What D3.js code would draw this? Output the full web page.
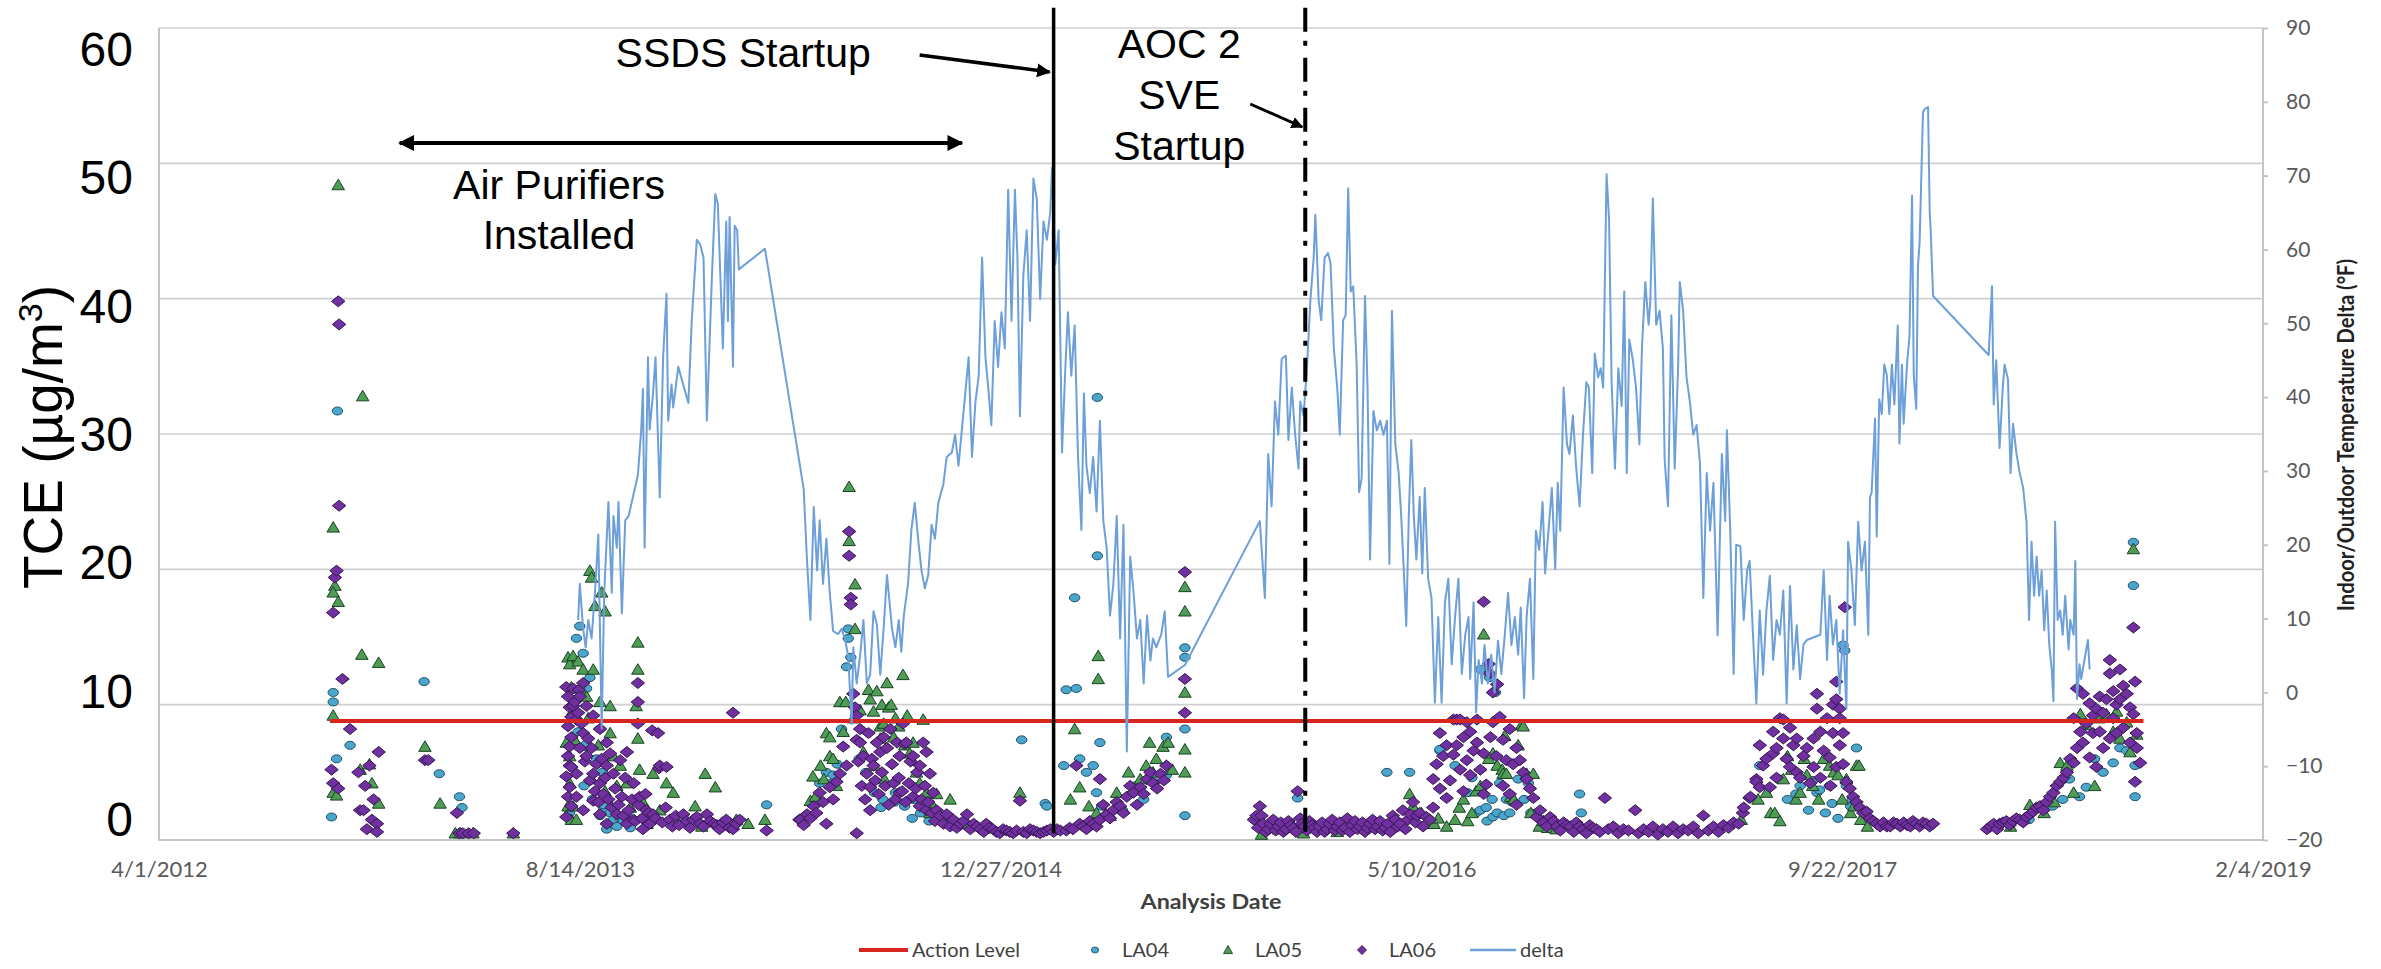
<!DOCTYPE html>
<html>
<head>
<meta charset="utf-8">
<script src="https://cdn.jsdelivr.net/npm/d3@7/dist/d3.min.js"></script>
<style>
  body { margin: 0; background: #fff; }
</style>
</head>
<body>
<script>
// sample dates are kept as day counts from 4/1/2012 (the first x tick)
const la04 = [
  [205,1.7],[207,10.2],[207,10.9],[211,6.0],[212,31.7],[227,7.0],[315,11.7],[333,4.9],[357,3.2],[360,2.4],
  [488,2.0],[496,14.9],[498,8.0],[500,15.8],[504,13.8],[505,4.0],[508,11.2],[508,6.9],[508,7.1],[512,12.0],[515,3.0],[520,6.0],[524,8.2],[524,1.8],[527,5.0],[528,2.2],[528,2.6],[532,0.8],[534,1.2],[536,2.0],[540,1.5],[544,1.0],[548,1.6],[552,1.4],[556,1.9],[560,0.9],[722,2.6],
  [785,4.2],[793,5.0],[799,4.2],[801,4.8],[806,5.6],[811,8.2],[817,12.8],[819,15.6],[819,14.9],[822,13.5],[832,6.0],[840,5.0],[850,3.5],[858,2.4],[860,3.0],[874,2.8],[875,3.5],[886,2.5],[895,1.6],[897,3.0],[905,2.0],[915,1.4],[930,1.5],
  [1025,7.4],[1053,2.7],[1055,2.5],[1075,5.5],[1078,11.1],[1088,17.9],[1090,11.2],[1094,6.0],[1102,5.0],[1110,5.5],[1114,3.5],[1115,32.7],[1115,21.0],[1118,7.2],[1120,2.5],[1130,2.0],[1145,2.2],[1160,4.0],[1170,3.0],[1180,4.5],[1197,7.6],[1197,4.8],[1219,14.2],[1219,13.5],[1219,8.2],[1219,1.8],
  [1353,3.1],[1459,5.0],[1486,5.0],[1522,6.6],[1522,6.7],[1540,5.5],[1555,3.5],[1560,4.6],[1565,2.0],[1570,12.6],[1570,2.2],[1577,2.4],[1578,1.4],[1581,12.0],[1584,3.0],[1585,1.7],[1588,10.9],[1590,2.0],[1593,4.2],[1598,1.8],[1601,3.0],[1605,2.0],[1608,2.8],[1615,4.5],[1622,3.0],[1627,4.2],[1630,2.0],[1688,3.4],[1690,2.0],[1700,1.0],
  [1902,5.5],[1926,4.5],[1935,3.0],[1945,3.4],[1950,4.0],[1960,2.2],[1965,4.4],[1970,3.5],[1973,3.7],[1980,2.0],[1985,4.0],[1988,2.7],[1995,1.6],[2001,14.4],[2003,14.0],[2005,4.0],[2010,2.5],[2012,3.0],[2017,6.8],[2025,1.5],
  [2222,1.5],[2250,2.5],[2262,3.0],[2270,4.5],[2282,3.2],[2290,3.9],[2300,6.0],[2310,5.0],[2322,5.7],[2330,6.8],[2338,6.6],[2346,22.0],[2346,18.8],[2348,3.2],[2348,5.5]
];

const la05 = [
  [207,23.1],[209,18.8],[207,18.3],[213,17.6],[213,48.4],[242,32.8],[241,13.7],[261,13.1],[207,9.2],[207,3.5],[211,3.3],[239,5.2],[250,5.6],[253,4.2],[261,2.7],[316,6.9],[334,2.7],[352,0.5],[358,0.5],[373,0.5],[421,0.5],
  [484,7.2],[486,13.5],[486,2.5],[488,6.2],[488,4.2],[488,13.0],[490,11.3],[490,1.5],[492,13.6],[492,9.6],[492,2.5],[494,7.4],[496,1.5],[498,13.2],[500,11.2],[504,12.6],[508,10.6],[510,9.0],[512,19.9],[514,19.4],[514,4.5],[516,12.6],[518,17.3],[522,7.0],[524,10.2],[526,18.3],[530,16.9],[530,3.6],[536,9.9],[536,7.9],[540,6.2],[544,4.0],[548,5.5],[556,4.2],[560,2.4],
  [569,14.6],[569,12.6],[567,9.9],[569,7.5],[571,5.2],[575,2.8],[580,1.2],[587,4.9],[595,2.2],[603,4.2],[611,3.5],[620,1.5],[637,2.5],[645,1.0],[649,4.9],[661,3.9],[686,1.5],[700,1.2],[720,1.5],
  [774,2.9],[777,4.7],[780,3.2],[786,5.5],[790,4.5],[793,7.9],[797,7.6],[797,6.2],[801,6.0],[805,4.0],[809,10.2],[813,8.0],[816,10.2],[820,26.1],[820,22.1],[825,9.0],[827,18.9],[827,15.6],[833,9.6],[837,6.5],[843,11.1],[845,10.4],[849,9.5],[850,5.5],[853,11.0],[857,8.4],[857,7.5],[859,10.0],[861,8.6],[862,4.5],[865,11.6],[867,9.8],[870,10.0],[873,7.6],[875,9.0],[879,8.4],[884,12.2],[886,7.0],[889,9.2],[892,6.4],[896,7.2],[900,5.0],[904,4.2],[908,8.9],[912,3.5],[916,2.0],[920,2.5],[924,3.4],[930,1.6],[940,3.0],[960,1.2],[1023,3.5],
  [1083,3.0],[1088,8.2],[1094,3.9],[1105,2.5],[1114,2.0],[1116,13.6],[1116,11.9],[1130,1.8],[1138,3.5],[1152,5.0],[1158,3.8],[1166,4.5],[1173,5.5],[1177,7.2],[1181,5.0],[1185,6.0],[1193,6.9],[1199,7.2],[1204,5.2],
  [1219,18.7],[1219,16.9],[1219,10.9],[1219,6.7],[1219,5.0],
  [1310,0.4],[1330,0.8],[1360,0.5],[1400,0.6],[1440,1.0],[1486,3.4],[1490,2.5],[1500,2.0],[1515,1.2],[1520,1.6],[1530,1.0],[1540,1.5],[1545,2.4],[1550,3.0],[1555,1.4],[1560,2.0],[1565,3.6],[1570,4.0],[1574,15.2],[1580,6.0],[1585,6.4],[1590,5.5],[1596,5.2],[1597,4.9],[1599,7.7],[1601,4.9],[1606,3.2],[1610,3.0],[1615,7.0],[1619,8.5],[1621,8.4],[1625,4.9],[1630,2.0],[1633,4.9],[1640,1.0],[1645,1.4],[1650,0.9],[1660,0.8],
  [1880,1.5],[1900,3.0],[1910,3.5],[1915,2.0],[1920,2.0],[1926,1.4],[1930,4.5],[1935,6.2],[1940,5.2],[1945,3.0],[1950,3.5],[1955,6.0],[1958,4.8],[1965,4.0],[1972,3.0],[1978,6.0],[1985,5.5],[1990,5.0],[1995,4.8],[2000,3.0],[2005,4.5],[2010,2.0],[2014,2.5],[2017,5.5],[2020,5.5],[2022,1.5],[2030,1.0],
  [2200,1.0],[2223,2.6],[2240,2.0],[2252,2.8],[2259,5.7],[2267,5.5],[2275,3.5],[2283,9.3],[2290,8.5],[2300,4.0],[2305,9.0],[2314,9.3],[2322,8.0],[2326,9.5],[2330,7.5],[2338,8.7],[2342,6.5],[2346,21.5],[2350,7.8]
];

const la06 = [
  [205,5.2],[207,4.2],[207,16.8],[209,19.4],[211,19.9],[213,3.8],[213,39.8],[214,38.1],[214,24.7],[218,11.9],[227,8.2],[237,5.0],[239,2.2],[243,2.2],[245,4.0],[247,0.8],[250,5.5],[253,1.5],[255,3.0],[259,1.2],[259,0.6],[261,6.5],
  [316,5.9],[320,5.9],[354,2.0],[357,0.5],[361,0.5],[368,0.5],[374,0.5],[421,0.5],
  [484,11.3],[484,4.7],[484,1.7],[486,10.6],[486,8.4],[486,6.2],[486,3.2],[488,5.5],[488,9.8],[488,6.9],[488,3.9],[490,9.1],[490,7.6],[490,5.4],[490,2.5],[492,11.2],[492,9.9],[494,10.2],[496,8.9],[496,4.9],[496,3.2],[498,9.4],[499,11.1],[500,10.6],[500,6.8],[502,8.6],
  [504,11.6],[504,7.9],[504,2.2],[506,5.8],[508,9.9],[508,6.2],[510,7.5],[512,4.4],[514,6.8],[516,9.2],[516,4.9],[516,2.9],[518,3.6],[520,5.6],[522,2.8],[524,8.2],[524,4.2],[524,1.9],[526,6.0],[528,3.4],[530,4.6],[532,7.2],[532,5.5],[532,1.2],[534,3.0],[536,6.4],[538,2.4],
  [540,4.9],[542,3.8],[544,1.9],[546,2.6],[548,5.9],[550,3.2],[552,1.8],[554,4.6],[556,6.5],[556,1.2],[558,2.2],[562,3.0],[564,4.2],[564,1.5],[566,1.4],[569,11.6],[569,10.2],[569,8.6],[570,2.6],[571,3.2],[574,1.6],[575,0.8],[578,3.4],[579,2.2],[582,2.0],[583,1.2],
  [586,8.1],[587,1.9],[590,1.6],[593,7.9],[594,5.3],[595,5.5],[598,1.3],[602,2.4],[603,5.4],[607,1.5],[610,1.0],[614,1.8],[618,1.1],[623,1.9],[627,1.4],[631,0.9],[635,1.5],[639,1.7],[643,1.2],[647,1.0],[651,1.9],[655,1.4],[659,1.2],[663,1.1],[666,0.8],[670,1.3],[674,1.5],[678,0.9],
  [682,9.4],[682,0.8],[686,1.2],[690,1.5],[722,0.7],[761,1.5],
  [762,1.5],[766,1.1],[770,1.9],[774,1.6],[778,2.5],[781,2.0],[785,3.5],[789,2.8],[793,1.2],[797,3.9],[801,3.0],[805,4.3],[809,4.9],[813,6.9],[817,5.5],[820,22.8],[820,21.0],[822,17.9],[822,17.4],[825,10.8],[827,9.8],[829,9.2],[829,7.4],[829,0.5],[831,5.8],
  [833,8.2],[833,7.2],[835,4.0],[837,6.2],[839,3.0],[841,4.9],[843,7.9],[845,3.9],[845,2.2],[847,6.0],[849,5.5],[851,4.4],[853,7.2],[855,3.4],[857,6.5],[859,5.0],[861,7.6],[863,4.0],[865,6.8],[867,2.6],[869,8.2],[871,5.6],[873,4.2],[875,3.0],
  [877,7.2],[879,4.6],[880,6.2],[880,3.5],[883,3.6],[884,8.6],[886,7.1],[887,2.8],[888,7.2],[891,4.2],[893,5.8],[896,6.2],[896,3.2],[899,3.8],[901,5.0],[904,5.5],[904,2.5],[906,3.0],[908,7.2],[910,4.0],[912,6.5],[912,2.2],[914,2.8],[916,4.9],[918,2.0],[920,3.5],[922,1.4],[924,2.2],
  [928,1.8],[932,1.2],[936,1.9],[940,1.0],[944,1.5],[948,0.9],[952,1.2],[956,1.4],[960,1.9],[964,0.8],[968,1.2],[972,1.0],[976,0.8],[980,0.6],[983,1.2],[987,0.9],[991,0.8],[995,0.6],[999,0.5],[1003,0.8],
  [1007,0.7],[1011,0.6],[1015,0.5],[1019,0.7],[1023,2.9],[1027,0.6],[1031,0.5],[1035,0.8],[1039,0.7],[1043,0.6],[1047,0.5],[1051,0.6],[1055,0.7],[1059,0.8],[1063,0.6],[1067,0.8],[1071,0.7],[1078,0.7],[1082,0.9],[1086,0.8],[1090,5.5],[1094,1.2],[1098,1.0],[1102,0.8],
  [1106,1.4],[1110,1.2],[1114,1.0],[1118,1.5],[1118,4.5],[1122,2.6],[1126,1.9],[1130,1.6],[1134,2.2],[1138,2.8],[1142,2.5],[1146,2.0],[1150,3.2],[1154,4.0],[1158,3.5],[1162,2.6],[1166,3.9],[1170,3.4],[1174,4.5],[1178,5.0],[1181,4.2],[1186,3.8],[1190,4.9],[1194,4.4],[1197,5.5],
  [1219,19.8],[1219,11.9],[1219,9.4],
  [1301,1.5],[1304,1.8],[1306,0.9],[1308,2.5],[1310,1.8],[1312,1.2],[1315,0.6],[1318,0.8],[1321,1.2],[1324,1.5],[1327,0.7],[1330,1.0],[1333,1.3],[1336,0.6],[1339,0.8],[1342,1.4],[1345,1.1],[1348,0.9],[1351,0.6],[1353,3.6],[1356,1.6],[1358,1.2],[1361,1.0],[1364,0.7],
  [1367,1.4],[1370,1.1],[1373,0.9],[1376,0.6],[1379,1.0],[1382,1.3],[1385,0.6],[1388,0.8],[1391,1.2],[1394,1.5],[1397,0.7],[1400,1.0],[1403,1.3],[1406,0.7],[1409,0.9],[1412,1.6],[1415,0.6],[1418,1.1],[1421,1.4],[1424,0.8],[1427,1.0],[1430,1.3],[1433,0.6],[1436,0.9],
  [1439,1.2],[1442,1.5],[1445,0.8],[1448,1.0],[1451,1.4],[1454,0.7],[1457,0.9],[1460,1.2],[1463,0.6],[1466,1.8],[1469,1.5],[1472,1.0],[1475,1.2],[1478,2.2],[1481,0.8],[1484,1.5],[1487,1.9],[1490,2.8],[1493,1.3],[1495,1.8],
  [1498,2.0],[1502,1.0],[1506,1.7],[1510,1.5],[1514,2.4],[1514,4.5],[1518,5.6],[1522,3.8],[1522,7.9],[1526,6.2],[1530,3.1],[1530,7.0],[1534,4.4],[1538,8.9],[1538,6.3],[1542,8.9],[1542,7.0],[1546,8.9],[1546,5.2],[1550,7.6],[1550,3.6],[1554,8.7],[1554,5.9],[1558,8.0],[1558,4.8],
  [1562,6.6],[1566,8.9],[1566,7.2],[1570,5.2],[1574,17.6],[1574,6.4],[1574,3.4],[1577,4.1],[1580,13.0],[1581,12.3],[1582,7.6],[1585,8.7],[1585,10.9],[1589,6.2],[1590,11.5],[1593,9.1],[1597,7.4],[1597,4.0],[1601,5.9],[1605,8.2],[1605,3.4],[1609,5.6],[1613,6.8],[1613,2.6],
  [1617,5.9],[1621,5.0],[1625,4.5],[1629,3.8],[1633,3.1],[1637,1.7],[1641,2.2],[1645,1.3],[1649,1.0],[1653,1.7],[1657,1.4],[1661,1.0],[1665,0.7],[1669,1.3],[1673,1.1],[1677,1.0],[1681,0.6],[1684,1.3],[1688,1.0],[1692,0.8],[1696,0.5],[1700,1.1],[1704,0.9],[1708,0.8],
  [1712,0.6],[1718,3.1],[1722,0.8],[1728,1.0],[1734,0.5],[1740,0.8],[1746,0.7],[1754,2.2],[1758,0.5],[1764,0.8],[1770,0.6],[1775,1.0],[1781,0.4],[1787,0.8],[1793,0.6],[1799,1.0],[1805,0.5],[1811,0.8],[1817,0.7],[1823,1.0],[1829,0.5],[1835,1.8],[1841,0.7],[1847,1.0],
  [1853,0.6],[1859,1.1],[1865,0.9],[1871,1.3],[1877,1.2],[1882,2.0],[1890,3.1],[1898,4.5],
  [1883,2.4],[1891,3.2],[1898,4.3],[1902,3.9],[1902,7.0],[1906,5.5],[1910,6.0],[1914,3.9],[1918,6.4],[1918,8.0],[1922,4.6],[1922,6.8],[1926,9.0],[1930,7.5],[1930,8.9],[1934,6.0],[1938,8.3],[1938,5.4],[1942,7.0],[1946,7.5],[1946,5.0],[1950,4.6],[1954,6.2],[1958,6.8],
  [1962,4.2],[1966,5.4],[1966,7.5],[1970,10.8],[1970,9.7],[1974,4.6],[1974,8.0],[1978,6.6],[1982,9.0],[1985,6.1],[1986,4.0],[1989,7.9],[1989,10.0],[1993,11.7],[1993,10.4],[1993,5.4],[1997,9.7],[1997,9.0],[1997,7.0],[2001,7.9],[2001,5.6],[2003,17.2],[2005,4.3],
  [2009,3.8],[2013,3.2],[2017,2.8],[2021,2.4],[2025,2.0],[2029,2.1],[2033,1.6],[2037,1.4],[2041,1.2],[2045,1.0],[2049,1.3],[2053,1.0],[2057,1.0],[2061,1.3],[2065,1.2],[2069,1.0],[2073,1.3],[2077,1.1],[2081,1.0],[2084,1.4],[2088,1.2],[2092,1.0],[2096,1.3],[2100,1.2],[2104,1.0],[2108,1.2],
  [2172,0.8],[2176,1.0],[2180,1.2],[2184,0.8],[2187,1.2],[2191,1.3],[2195,1.4],[2199,1.1],[2203,1.4],[2207,1.6],[2211,1.5],[2215,1.3],[2219,1.7],[2223,1.9],[2227,2.1],[2231,2.4],[2235,2.5],[2239,2.2],[2243,2.8],[2247,3.2],[2251,3.5],[2255,4.0],[2259,4.3],[2263,4.6],
  [2267,5.0],[2271,6.0],[2275,5.7],[2275,9.0],[2279,6.8],[2279,11.2],[2283,8.0],[2286,10.8],[2286,7.2],[2290,8.6],[2294,10.1],[2294,6.1],[2298,7.9],[2298,9.2],[2302,9.7],[2302,5.4],[2306,8.0],[2306,10.6],[2310,6.8],[2310,9.4],
  [2314,10.4],[2318,13.3],[2318,12.3],[2318,7.5],[2322,11.0],[2322,9.0],[2326,7.9],[2326,10.0],[2330,10.4],[2330,12.6],[2334,8.3],[2334,11.4],[2338,10.8],[2342,9.8],[2342,7.2],[2346,15.7],[2346,9.3],[2348,11.7],[2348,4.3],[2350,7.9],[2350,6.8],[2354,5.7]
];

const delta = [
  [498,9.8],[500,14.7],[504,8.6],[507,6.1],[510,9.8],[514,7.3],[518,13.5],[522,21.4],[526,-4.9],[529,13.5],[532,20.8],[534,25.8],[538,13.5],[540,23.9],[544,19.6],[546,25.8],[550,10.7],[554,23.3],[558,23.9],
  [569,29.4],[573,35.6],[575,41.1],[577,19.6],[581,45.4],[583,35.6],[587,40.5],[590,45.4],[595,26.4],[599,45.4],[603,54.0],[605,36.8],[609,41.7],[611,38.6],[617,44.1],[629,39.2],[633,50.3],[639,61.3],[643,60.7],[647,58.9],[651,36.8],[657,56.4],
  [661,67.5],[664,66.2],[667,56.4],[670,46.6],[674,63.8],[676,50.3],[678,64.4],[682,44.1],[684,63.2],[687,62.6],[689,57.3],[720,60.1],[766,27.6],
  [770,17.8],[774,9.8],[778,25.1],[782,16.5],[785,23.3],[789,14.7],[793,20.8],[797,13.5],[801,8.3],[807,7.9],[811,8.6],[815,7.3],[819,4.9],[823,-4.3],[825,6.1],[829,1.2],[833,4.9],[837,9.8],[841,1.2],[845,2.4],[849,11.0],[853,9.2],[857,2.4],[861,8.6],[865,15.9],
  [871,8.6],[875,6.1],[879,9.8],[882,5.5],[885,10.4],[890,14.7],[894,22.0],[898,25.7],[902,20.8],[906,16.5],[910,14.1],[914,15.9],[918,22.7],[922,20.8],[926,25.7],[932,28.2],[936,31.9],[942,32.5],[946,34.9],[950,30.7],[954,35.6],[958,40.5],[962,45.4],[966,31.9],
  [970,39.2],[974,42.9],[978,58.9],[982,45.4],[985,41.7],[989,36.2],[993,50.3],[997,44.1],[1001,51.5],[1005,46.6],[1009,68.1],[1013,50.3],[1017,68.1],[1020,58.9],[1023,37.4],[1027,56.4],[1031,62.6],[1035,50.3],[1039,69.6],[1043,66.8],[1047,53.3],[1051,63.8],
  [1055,61.3],[1059,65.0],[1061,71.1],[1065,58.0],[1069,62.6],[1073,32.5],[1077,44.1],[1080,51.5],[1084,42.9],[1088,49.7],[1092,31.9],[1096,22.0],[1099,40.5],[1102,30.7],[1106,27.0],[1110,31.9],[1114,24.5],[1118,36.8],[1122,23.3],[1126,19.6],[1130,10.4],
  [1134,14.7],[1138,23.9],[1142,7.3],[1146,22.7],[1150,-8.0],[1154,18.4],[1158,13.5],[1162,7.3],[1166,9.8],[1170,1.2],[1174,10.4],[1178,4.3],[1181,7.3],[1185,6.1],[1191,7.9],[1195,11.0],[1199,2.1],[1219,3.7],
  [1308,23.2],[1314,12.8],[1318,32.3],[1322,25.2],[1326,39.4],[1330,34.9],[1334,45.2],[1339,45.6],[1342,34.2],[1346,41.3],[1350,34.9],[1354,30.3],[1356,39.4],[1360,37.5],[1364,43.9],[1368,53.0],[1372,58.9],[1374,64.7],[1378,53.0],[1381,50.4],[1385,58.9],
  [1389,59.5],[1392,58.2],[1396,46.5],[1400,41.3],[1403,34.9],[1407,50.4],[1410,51.1],[1413,68.3],[1416,54.3],[1419,55.0],[1423,44.6],[1426,27.1],[1429,29.0],[1433,53.7],[1436,41.3],[1439,18.0],[1443,38.1],[1447,35.5],[1451,36.8],[1455,34.9],[1459,36.8],
  [1462,17.4],[1465,51.7],[1469,33.6],[1473,29.7],[1476,23.9],[1479,16.7],[1482,9.0],[1485,23.9],[1488,34.2],[1491,23.9],[1494,18.0],[1498,26.5],[1501,16.1],[1504,27.7],[1508,15.4],[1512,12.8],[1516,-1.4],[1520,10.2],[1524,-1.4],[1528,12.2],[1532,15.4],
  [1536,3.8],[1540,10.2],[1544,15.4],[1548,2.5],[1552,7.7],[1556,10.2],[1558,1.8],[1562,12.2],[1565,-2.7],[1568,4.4],[1572,1.2],[1575,6.4],[1579,1.2],[1583,5.1],[1587,0.0],[1591,7.0],[1595,2.5],[1599,7.7],[1603,13.5],[1607,6.4],[1611,10.2],[1615,5.1],
  [1618,11.5],[1622,-0.8],[1625,10.2],[1629,15.4],[1633,1.8],[1636,21.9],[1640,19.3],[1644,25.8],[1647,16.1],[1651,21.9],[1655,27.7],[1659,16.7],[1662,28.4],[1665,21.9],[1669,41.3],[1673,33.6],[1676,32.3],[1680,37.5],[1684,30.3],[1688,25.2],[1692,34.9],
  [1696,42.0],[1699,41.3],[1703,29.7],[1706,45.9],[1710,42.7],[1713,43.9],[1716,41.3],[1720,70.2],[1723,64.0],[1726,42.0],[1730,30.3],[1734,43.9],[1738,38.8],[1741,54.3],[1744,29.7],[1747,47.8],[1751,45.2],[1755,41.3],[1759,33.6],[1762,46.5],[1766,55.6],
  [1770,49.8],[1772,53.0],[1775,66.9],[1779,49.8],[1783,51.7],[1787,46.5],[1789,31.6],[1793,25.2],[1797,51.1],[1801,30.3],[1805,43.9],[1807,55.6],[1811,51.7],[1815,42.7],[1819,39.4],[1823,34.9],[1827,36.2],[1831,31.0],[1835,12.8],[1839,29.7],[1843,21.9],
  [1847,28.4],[1852,7.7],[1857,32.3],[1861,23.2],[1863,35.5],[1867,21.9],[1871,2.5],[1874,20.0],[1879,19.8],[1883,9.8],[1887,16.5],[1890,17.8],[1894,7.8],[1898,-1.5],[1902,11.1],[1906,2.4],[1910,11.1],[1914,15.8],[1918,4.4],[1922,9.8],[1926,7.8],
  [1930,13.8],[1934,-1.5],[1938,14.4],[1942,3.1],[1946,9.1],[1950,1.8],[1954,6.5],[1958,7.1],[1974,7.8],[1978,16.5],[1982,4.4],[1985,13.1],[1989,6.5],[1993,9.8],[1997,-0.2],[2001,8.4],[2005,-2.2],[2007,20.4],[2011,16.5],[2015,9.1],[2019,23.1],
  [2023,16.5],[2027,20.4],[2031,7.8],[2033,26.4],[2035,27.1],[2039,37.1],[2041,21.1],[2044,39.7],[2047,37.7],[2050,44.4],[2053,43.0],[2056,37.7],[2059,44.4],[2062,39.0],[2066,49.7],[2068,33.7],[2071,44.4],[2073,36.4],[2077,44.4],[2080,48.4],[2083,67.3],
  [2085,43.0],[2088,38.4],[2090,57.7],[2092,61.0],[2096,78.6],[2098,79.0],[2102,79.3],[2104,65.0],[2105,63.0],[2108,53.7],[2174,45.7],[2178,55.0],[2180,39.0],[2183,45.0],[2187,33.1],[2191,41.7],[2193,44.4],[2197,42.4],[2200,29.7],[2203,36.4],[2207,32.4],
  [2211,29.7],[2215,27.7],[2219,23.1],[2222,9.8],[2225,20.4],[2228,13.1],[2231,18.4],[2234,13.1],[2237,16.5],[2240,8.4],[2243,13.8],[2246,6.5],[2249,3.1],[2251,-1.2],[2253,23.1],[2256,9.8],[2259,11.1],[2262,7.8],[2265,13.1],[2269,5.8],[2271,9.8],
  [2275,7.8],[2277,17.8],[2279,-0.9],[2282,3.8],[2284,1.8],[2288,4.5],[2292,7.1],[2294,3.1]
];

const actionLevel = 8.8;
const xTickDates = ["2012-04-01", "2013-08-14", "2014-12-27", "2016-05-10", "2017-09-22", "2019-02-04"];
const leftTicks = [0, 10, 20, 30, 40, 50, 60];
const rightTicks = [-20, -10, 0, 10, 20, 30, 40, 50, 60, 70, 80, 90];
const ssdsStart = "2015-02-28";
const sveStart = "2015-12-24";
const airPurifiers = ["2013-01-12", "2014-11-11"];

const W = 2381, H = 969;
const m = { left: 159, right: 2263, top: 28, bottom: 840 };

const parse = d3.timeParse("%Y-%m-%d");
const origin = parse("2012-04-01");
const dayToDate = d => d3.timeDay.offset(origin, d);

const x = d3.scaleTime()
  .domain([parse(xTickDates[0]), parse(xTickDates[xTickDates.length - 1])])
  .range([m.left, m.right]);
const yL = d3.scaleLinear().domain([0, 60]).range([m.bottom, m.top]);
const yR = d3.scaleLinear().domain([-20, 90]).range([m.bottom, m.top]);
// the big TCE labels were laid over the chart by hand and sit a bit off the gridlines
const yLab = d3.scaleLinear().domain([0, 60]).range([820, 50]);

const svg = d3.select("body").append("svg")
  .attr("width", W).attr("height", H)
  .style("font-family", "Lato, 'Open Sans', sans-serif");

// gridlines
svg.append("g").selectAll("line")
  .data(leftTicks)
  .enter().append("line")
  .attr("x1", m.left).attr("x2", m.right)
  .attr("y1", d => yL(d)).attr("y2", d => yL(d))
  .attr("stroke", "#cfcfcf").attr("stroke-width", 1.6);

// frame
svg.append("path")
  .attr("d", `M${m.left},${m.top}V${m.bottom}H${m.right}V${m.top}`)
  .attr("fill", "none").attr("stroke", "#c4c4c4").attr("stroke-width", 2);

// x axis
let xAxis = d3.axisBottom(x)
  .tickValues(xTickDates.map(parse))
  .tickFormat(d3.timeFormat("%-m/%-d/%Y"))
  .tickSize(0).tickPadding(21);
let gx = svg.append("g").attr("transform", `translate(0,${m.bottom})`).call(xAxis);
gx.select(".domain").remove();
gx.selectAll("text").attr("font-size", 22).attr("fill", "#595959").attr("font-family", "Lato");

// right axis
let yAxisR = d3.axisRight(yR).tickValues(rightTicks).tickSize(5).tickPadding(18);
let gr = svg.append("g").attr("transform", `translate(${m.right},0)`).call(yAxisR);
gr.select(".domain").remove();
gr.selectAll("line").attr("stroke", "#c4c4c4").attr("stroke-width", 2);
gr.selectAll("text").attr("font-size", 21).attr("fill", "#595959").attr("font-family", "Lato");

// left axis (overlay labels)
let yAxisL = d3.axisLeft(yLab).tickValues(leftTicks).tickSize(0).tickPadding(26);
let gl = svg.append("g").attr("transform", `translate(${m.left},0)`).call(yAxisL);
gl.select(".domain").remove();
gl.selectAll("text").attr("font-size", 48).attr("fill", "#000")
  .attr("font-family", "'Liberation Sans', Arial, sans-serif");

// axis titles
svg.append("text")
  .attr("x", (m.left + m.right) / 2).attr("y", 909)
  .attr("text-anchor", "middle")
  .attr("font-size", 21).attr("font-weight", "bold").attr("fill", "#404040")
  .attr("textLength", 141).attr("lengthAdjust", "spacingAndGlyphs")
  .text("Analysis Date");

svg.append("text")
  .attr("transform", `translate(2354,435) rotate(-90)`)
  .attr("text-anchor", "middle")
  .attr("font-size", 22).attr("font-weight", "bold").attr("fill", "#222")
  .attr("textLength", 352).attr("lengthAdjust", "spacingAndGlyphs")
  .text("Indoor/Outdoor Temperature Delta (°F)");

let tce = svg.append("text")
  .attr("transform", `translate(62,437) rotate(-90)`)
  .attr("text-anchor", "middle")
  .attr("font-size", 55).attr("fill", "#000")
  .attr("font-family", "'Liberation Sans', Arial, sans-serif");
tce.append("tspan").text("TCE (µg/m");
tce.append("tspan").attr("dy", -20).attr("font-size", 34).text("3");
tce.append("tspan").attr("dy", 20).text(")");

// marker shapes
const circlePath = (rx, ry) => `M${-rx},0A${rx},${ry} 0 1,0 ${rx},0A${rx},${ry} 0 1,0 ${-rx},0Z`;
const triPath = (w, h) => `M0,${-h * 0.55}L${w / 2},${h * 0.45}L${-w / 2},${h * 0.45}Z`;
const diaPath = (w, h) => `M0,${-h / 2}L${w / 2},0L0,${h / 2}L${-w / 2},0Z`;

const series = [
  { name: "LA04", data: la04, shape: circlePath(5.2, 4), legend: circlePath(3.6, 3), fill: "#4ba6cb", stroke: "#21506e" },
  { name: "LA05", data: la05, shape: triPath(12.5, 10.5), legend: triPath(9, 8), fill: "#4f9c57", stroke: "#1a4224" },
  { name: "LA06", data: la06, shape: diaPath(13.5, 11), legend: diaPath(9, 9), fill: "#7030a0", stroke: "#361651" }
];

series.forEach(s => {
  svg.append("g").selectAll("path")
    .data(s.data)
    .enter().append("path")
    .attr("d", s.shape)
    .attr("transform", d => `translate(${x(dayToDate(d[0]))},${yL(d[1])})`)
    .attr("fill", s.fill).attr("stroke", s.stroke).attr("stroke-width", 1);
});

// action level across the sampling period
let sampleDays = d3.extent([].concat(la04, la05, la06), d => d[0]);
svg.append("line")
  .attr("x1", x(dayToDate(sampleDays[0] - 2))).attr("x2", x(dayToDate(sampleDays[1] + 4)))
  .attr("y1", yL(actionLevel)).attr("y2", yL(actionLevel))
  .attr("stroke", "#d7261e").attr("stroke-width", 4);

// temperature delta on the right axis
const deltaLine = d3.line()
  .x(d => x(dayToDate(d[0])))
  .y(d => yR(d[1]));
svg.append("path")
  .datum(delta)
  .attr("d", deltaLine)
  .attr("fill", "none").attr("stroke", "#6d9fd8").attr("stroke-width", 2)
  .attr("stroke-linejoin", "round");

// event lines
svg.append("line")
  .attr("x1", x(parse(ssdsStart))).attr("x2", x(parse(ssdsStart)))
  .attr("y1", yL(61.5)).attr("y2", yL(0.5))
  .attr("stroke", "#000").attr("stroke-width", 3.5);

svg.append("line")
  .attr("x1", x(parse(sveStart))).attr("x2", x(parse(sveStart)))
  .attr("y1", yL(61.5)).attr("y2", yL(0.6))
  .attr("stroke", "#000").attr("stroke-width", 4)
  .attr("stroke-dasharray", "24,9,5,12");

// annotations
const defs = svg.append("defs");
defs.append("marker")
  .attr("id", "head").attr("viewBox", "0 0 10 10")
  .attr("refX", 9).attr("refY", 5)
  .attr("markerWidth", 4).attr("markerHeight", 4)
  .attr("orient", "auto-start-reverse")
  .append("path").attr("d", "M0,0L10,5L0,10Z").attr("fill", "#000");

const annoFont = "'Liberation Sans', Arial, sans-serif";
const xs = x(parse(ssdsStart)), xv = x(parse(sveStart));

svg.append("text").attr("x", xs - 438).attr("y", 67)
  .attr("font-size", 41).attr("font-family", annoFont).text("SSDS Startup");
svg.append("line")
  .attr("x1", xs - 134).attr("y1", 55).attr("x2", xs - 4).attr("y2", 72)
  .attr("stroke", "#000").attr("stroke-width", 3.5).attr("marker-end", "url(#head)");

const xa0 = x(parse(airPurifiers[0])), xa1 = x(parse(airPurifiers[1]));
svg.append("line")
  .attr("x1", xa0).attr("x2", xa1).attr("y1", 143).attr("y2", 143)
  .attr("stroke", "#000").attr("stroke-width", 4)
  .attr("marker-start", "url(#head)").attr("marker-end", "url(#head)");
svg.append("text").attr("x", 559).attr("y", 199).attr("text-anchor", "middle")
  .attr("font-size", 41).attr("font-family", annoFont).text("Air Purifiers");
svg.append("text").attr("x", 559).attr("y", 249).attr("text-anchor", "middle")
  .attr("font-size", 41).attr("font-family", annoFont).text("Installed");

["AOC 2", "SVE", "Startup"].forEach((t, i) => {
  svg.append("text").attr("x", xv - 126).attr("y", 58 + i * 51).attr("text-anchor", "middle")
    .attr("font-size", 41).attr("font-family", annoFont).text(t);
});
svg.append("line")
  .attr("x1", xv - 55).attr("y1", 104).attr("x2", xv - 3).attr("y2", 127)
  .attr("stroke", "#000").attr("stroke-width", 3).attr("marker-end", "url(#head)");

// legend
const lg = svg.append("g").attr("transform", "translate(0,950)")
  .attr("font-size", 20).attr("fill", "#404040");
lg.append("line").attr("x1", 859).attr("x2", 908).attr("stroke", "#d7261e").attr("stroke-width", 4);
lg.append("text").attr("x", 912).attr("dy", "0.35em").text("Action Level");
const legendX = [1095, 1228, 1362];
series.forEach((s, i) => {
  lg.append("path").attr("d", s.legend).attr("transform", `translate(${legendX[i]},0)`)
    .attr("fill", s.fill).attr("stroke", s.stroke).attr("stroke-width", 0.9);
  lg.append("text").attr("x", legendX[i] + 27).attr("dy", "0.35em").text(s.name);
});
lg.append("line").attr("x1", 1470).attr("x2", 1516).attr("stroke", "#6d9fd8").attr("stroke-width", 2.5);
lg.append("text").attr("x", 1520).attr("dy", "0.35em").text("delta");
</script>
</body>
</html>
